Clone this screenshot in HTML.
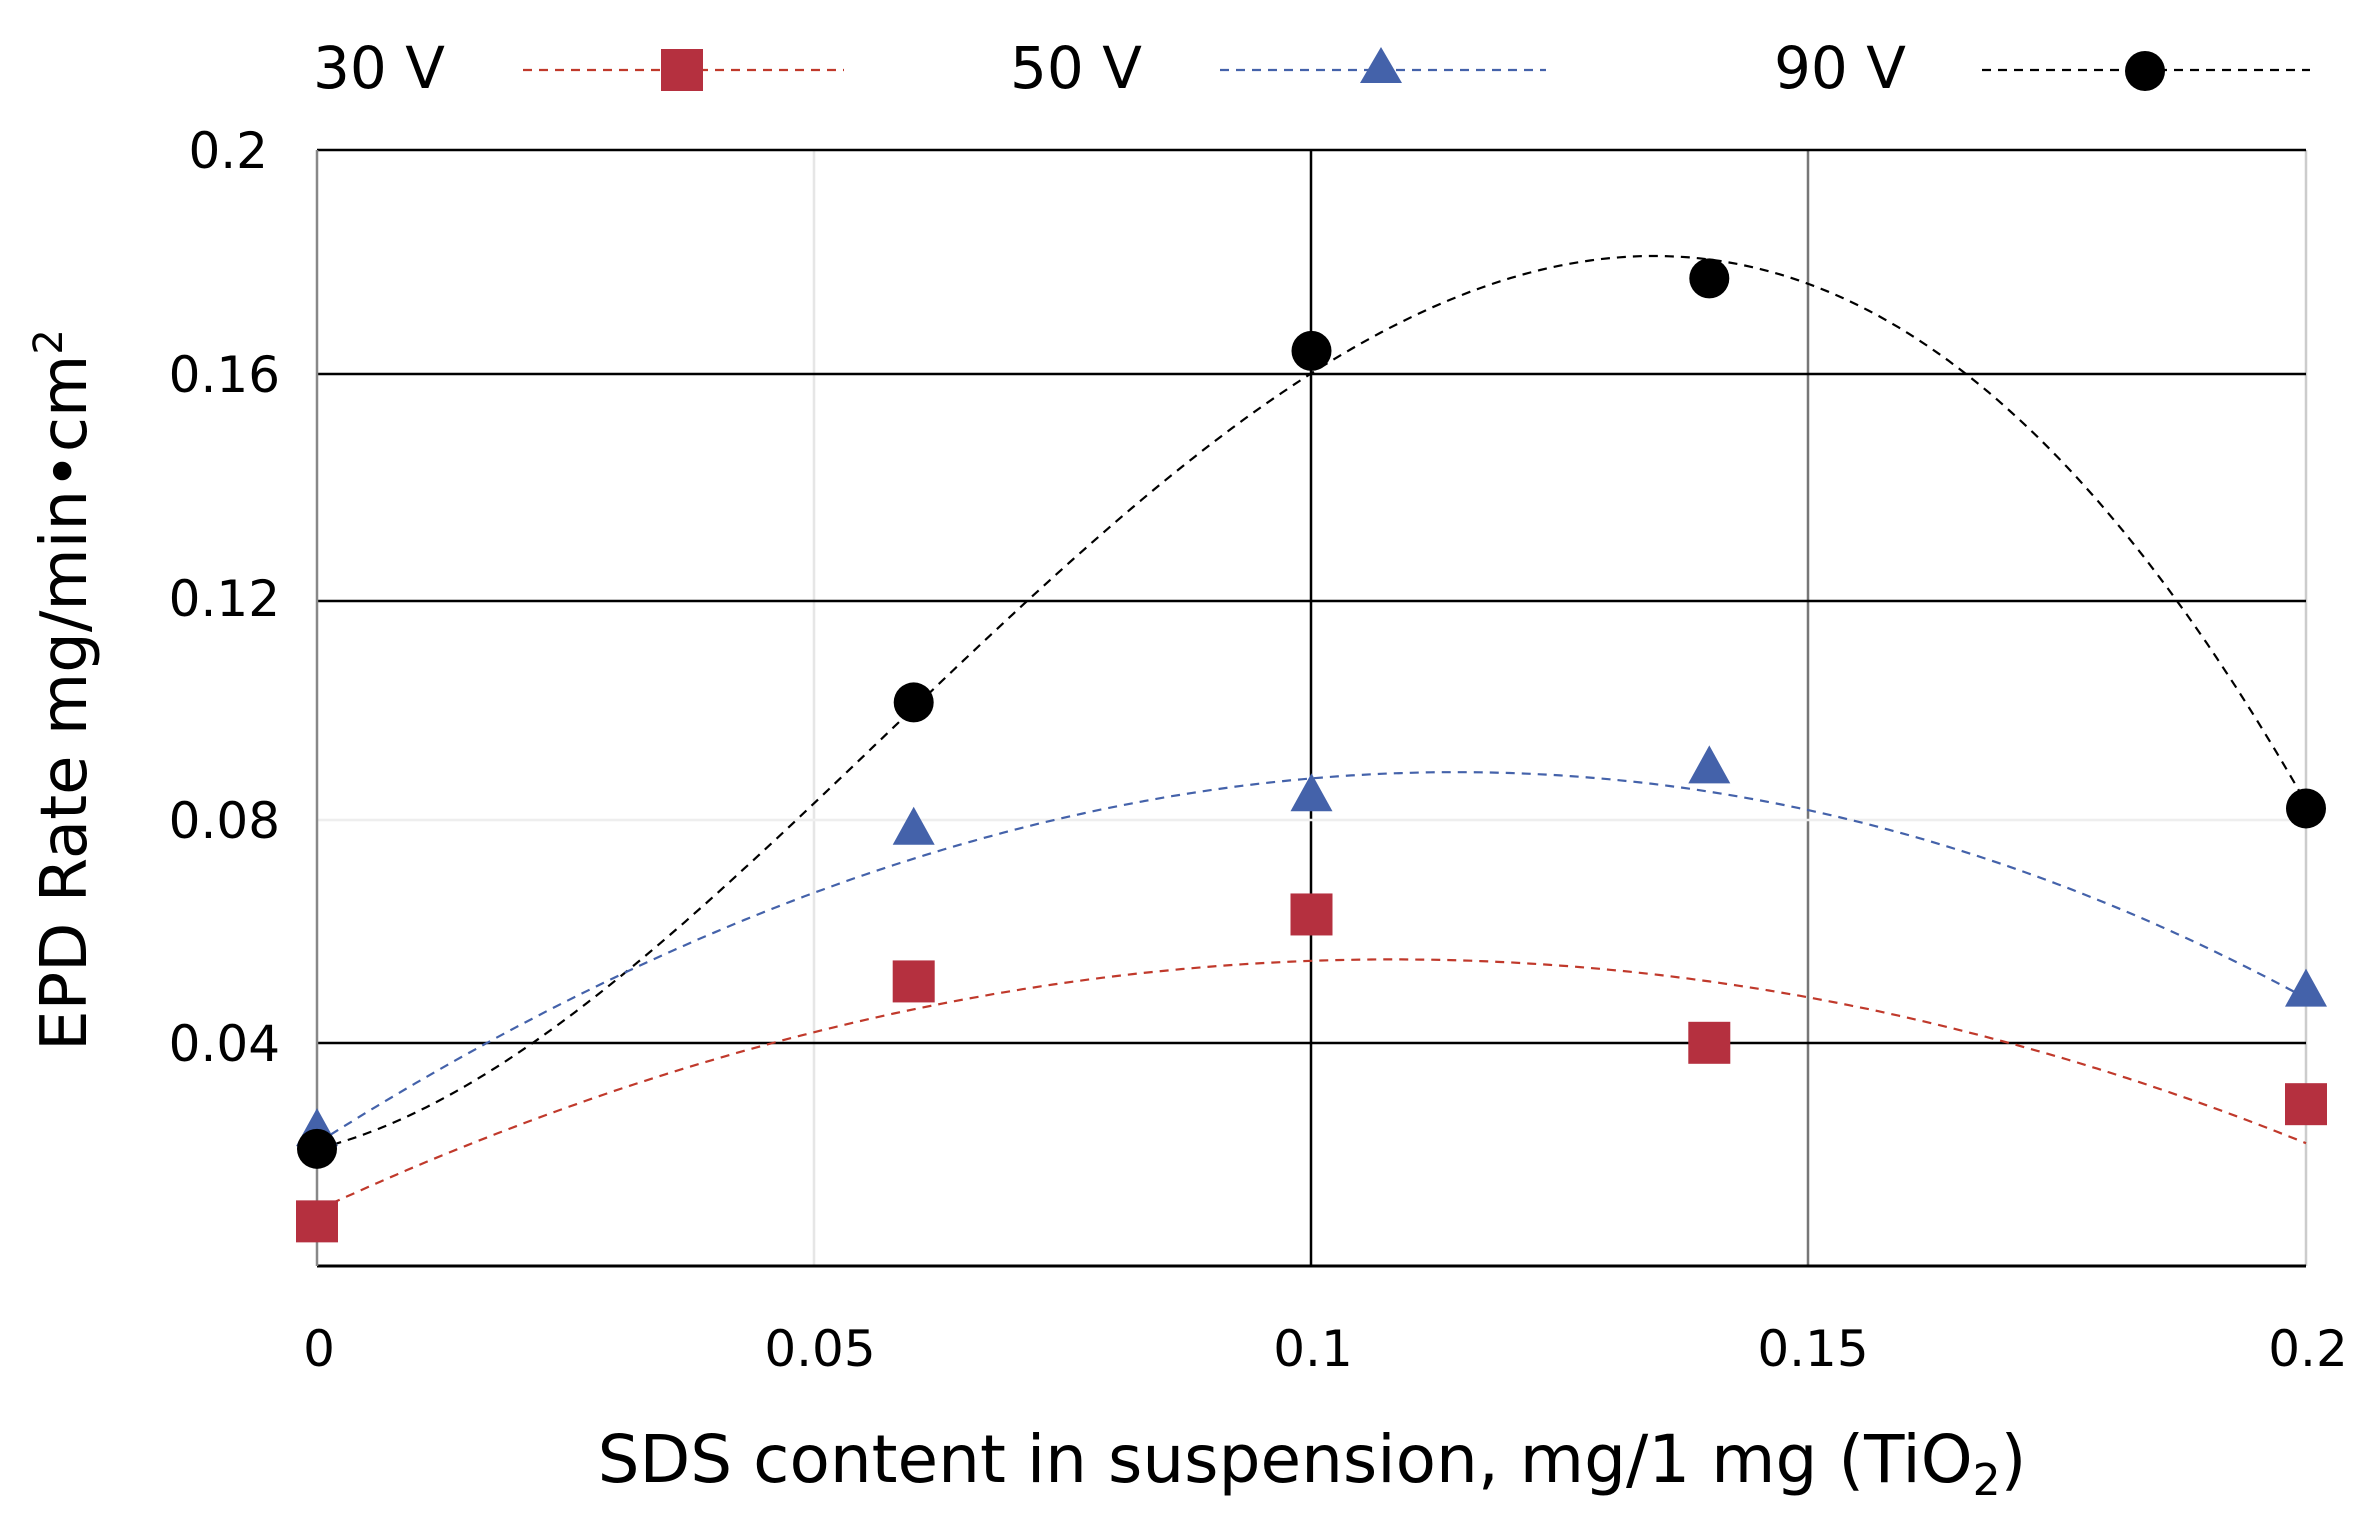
<!DOCTYPE html>
<html><head><meta charset="utf-8"><style>
html,body{margin:0;padding:0;background:#fff}
svg{display:block;font-family:"DejaVu Sans","Liberation Sans",sans-serif}
</style></head><body>
<svg id="s" width="2369" height="1525" viewBox="0 0 2369 1525" xmlns="http://www.w3.org/2000/svg">
<g stroke-width="2.5">
<line x1="814" y1="150" x2="814" y2="1266" stroke="#e6e6e6"/>
<line x1="1311" y1="150" x2="1311" y2="1266" stroke="#000"/>
<line x1="1808" y1="150" x2="1808" y2="1266" stroke="#777"/>
<line x1="2306" y1="150" x2="2306" y2="1266" stroke="#ccc"/>
<line x1="317" y1="1043" x2="2306" y2="1043" stroke="#000"/>
<line x1="317" y1="820" x2="2306" y2="820" stroke="#eee"/>
<line x1="317" y1="601" x2="2306" y2="601" stroke="#000"/>
<line x1="317" y1="374" x2="2306" y2="374" stroke="#000"/>
<line x1="317" y1="150" x2="2306" y2="150" stroke="#000"/>
<line x1="317" y1="1266" x2="2306" y2="1266" stroke="#000" stroke-width="3"/>
<line x1="317" y1="150" x2="317" y2="1266" stroke="#888"/>
</g>
<g id="curves" fill="none" stroke-width="2.2" stroke-dasharray="9,7"></g>
<g id="marks"></g>
<g font-size="50" fill="#000">
<text x="268" y="168" text-anchor="end">0.2</text>
<text x="280" y="392" text-anchor="end">0.16</text>
<text x="280" y="616" text-anchor="end">0.12</text>
<text x="280" y="838" text-anchor="end">0.08</text>
<text x="280" y="1061" text-anchor="end">0.04</text>
<text x="319" y="1366" text-anchor="middle">0</text>
<text x="820" y="1366" text-anchor="middle">0.05</text>
<text x="1313" y="1366" text-anchor="middle">0.1</text>
<text x="1813" y="1366" text-anchor="middle">0.15</text>
<text x="2308" y="1366" text-anchor="middle">0.2</text>
</g>
<text x="1312" y="1482" text-anchor="middle" font-size="66">SDS content in suspension, mg/1 mg (TiO<tspan font-size="44" dy="13">2</tspan><tspan dy="-13">)</tspan></text>
<text transform="translate(86,690) rotate(-90)" text-anchor="middle" font-size="64">EPD  Rate mg/min•cm<tspan font-size="40" dy="-24">2</tspan></text>
<g font-size="58">
<text x="313" y="88">30 V</text>
<text x="1010" y="88">50 V</text>
<text x="1774" y="88">90 V</text>
</g>
<g stroke-width="2.2" stroke-dasharray="9,7">
<line x1="523" y1="70" x2="844" y2="70" stroke="#c0392b"/>
<line x1="1220" y1="70" x2="1546" y2="70" stroke="#4462aa"/>
<line x1="1982" y1="70" x2="2310" y2="70" stroke="#000"/>
</g>
<rect x="661" y="49" width="42" height="42" fill="#b5303f"/>
<polygon points="1381,47 1402,83 1360,83" fill="#4462aa"/>
<circle cx="2145" cy="71" r="20" fill="#000"/>
</svg>
<script>
var X=function(v){return 317+v/0.2*1989},Y=function(v){return 1266-v/0.2*1116};
function lag(pts,x){var s=0;for(var i=0;i<pts.length;i++){var t=pts[i][1];for(var j=0;j<pts.length;j++)if(j!=i)t*=(x-pts[j][0])/(pts[i][0]-pts[j][0]);s+=t;}return s;}
var ns="http://www.w3.org/2000/svg";
var cur=[[[[0,0.021],[0.06,0.100],[0.1,0.160],[0.135,0.181],[0.2,0.083]],"#000"],
[[[0,0.022],[0.06,0.073],[0.14,0.085],[0.2,0.048]],"#4462aa"],
[[[0,0.010],[0.06,0.046],[0.14,0.051],[0.2,0.022]],"#c0392b"]];
var g=document.getElementById("curves");
cur.forEach(function(c){var d="";for(var i=0;i<=200;i++){var x=i*0.001;d+=(i?"L":"M")+X(x).toFixed(1)+","+Y(lag(c[0],x)).toFixed(1);}
var p=document.createElementNS(ns,"path");p.setAttribute("d",d);p.setAttribute("stroke",c[1]);g.appendChild(p);});
var m=document.getElementById("marks"),xs=[0,0.06,0.1,0.14,0.2];
var r=[0.008,0.051,0.063,0.040,0.029],b=[0.024,0.078,0.084,0.089,0.049],k=[0.021,0.101,0.164,0.177,0.082];
xs.forEach(function(x,i){var cx=X(x);
var e=document.createElementNS(ns,"rect");e.setAttribute("x",cx-21);e.setAttribute("y",Y(r[i])-21);e.setAttribute("width",42);e.setAttribute("height",42);e.setAttribute("fill","#b5303f");m.appendChild(e);
var t=document.createElementNS(ns,"polygon");var cy=Y(b[i]);t.setAttribute("points",cx+","+(cy-24)+" "+(cx+21)+","+(cy+14)+" "+(cx-21)+","+(cy+14));t.setAttribute("fill","#4462aa");m.appendChild(t);
var c=document.createElementNS(ns,"circle");c.setAttribute("cx",cx);c.setAttribute("cy",Y(k[i]));c.setAttribute("r",20);c.setAttribute("fill","#000");m.appendChild(c);});
</script>
</body></html>
